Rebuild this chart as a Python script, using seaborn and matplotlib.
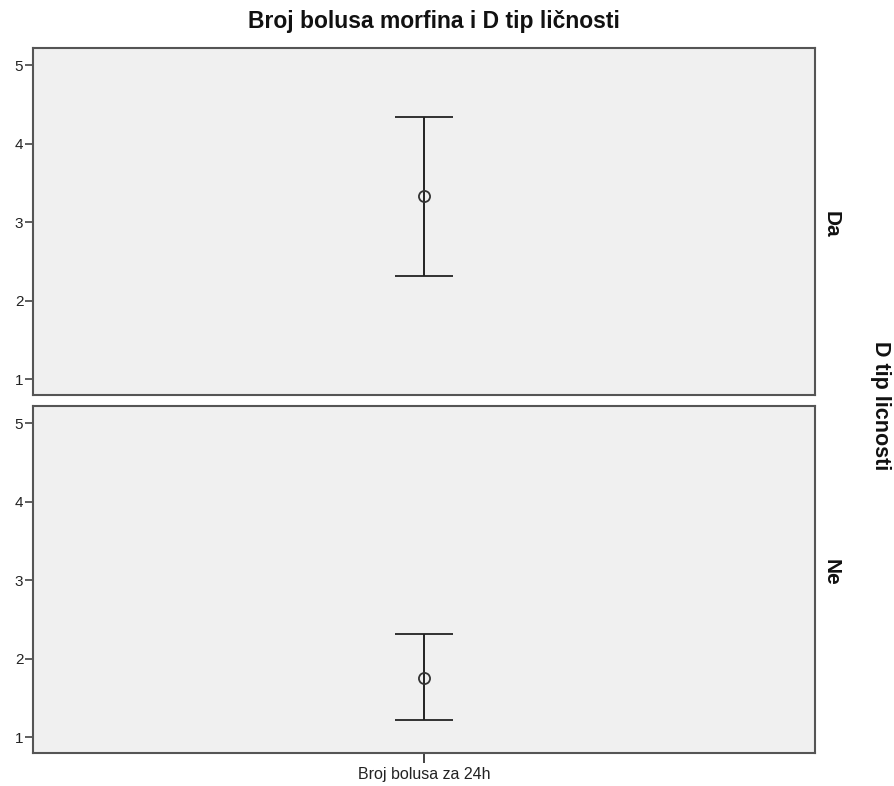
import matplotlib
matplotlib.use("Agg")
import matplotlib.pyplot as plt
import seaborn as sns
import pandas as pd

groups = ["Da", "Ne"]
variable = ["Broj bolusa za 24h", "Broj bolusa za 24h"]
means = [3.33, 1.76]
lower = [2.31, 1.22]
upper = [4.34, 2.32]
yticks = [1, 2, 3, 4, 5]

df = pd.DataFrame({"grupa": groups, "var": variable, "mean": means, "lo": lower, "hi": upper})

sns.set_theme(style="white")
plt.rcParams["font.family"] = ["Liberation Sans", "DejaVu Sans"]

W, H = 894, 786

g = sns.FacetGrid(df, row="grupa", row_order=groups, sharex=True, sharey=True,
                  height=3.9, aspect=2.2, despine=False)


def draw(data, **kw):
    ax = plt.gca()
    xs = [0] * len(data)
    ax.errorbar(xs, data["mean"],
                yerr=[data["mean"] - data["lo"], data["hi"] - data["mean"]],
                fmt="o", mfc="none", mec="#333333", ms=8, mew=1.3,
                ecolor="#222222", elinewidth=1.4, capsize=21, capthick=1.5)


g.map_dataframe(draw)
g.figure.set_size_inches(W / 100, H / 100)
g.figure.subplots_adjust(left=33 / W, right=815 / W, top=1 - 48 / H, bottom=1 - 753 / H,
                         hspace=11 / 347)
g.set_titles(row_template="", col_template="")
g.set_axis_labels("", "")

row_label_y = [224, 572]
for ax, grp, ly in zip(g.axes.flat, groups, row_label_y):
    ax.set_facecolor("#f0f0f0")
    ax.set_xlim(-0.5, 0.5)
    ax.set_ylim(0.8, 5.22)
    ax.set_yticks(yticks)
    ax.set_yticklabels([str(t) for t in yticks], fontsize=11, color="#222222")
    ax.tick_params(axis="y", left=True, length=6, width=1.2, color="#444444", pad=1)
    for s in ax.spines.values():
        s.set_color("#555555")
        s.set_linewidth(1.5)
    g.figure.text(831 / W, 1 - ly / H, grp, rotation=-90, ha="center", va="center",
                  fontsize=15, fontweight="bold", color="#111111")

bottom = g.axes.flat[-1]
bottom.set_xticks([0])
bottom.set_xticklabels(["Broj bolusa za 24h"], fontsize=11.5, color="#222222")
bottom.tick_params(axis="x", bottom=True, length=7, width=1.3, color="#333333", pad=3)
g.axes.flat[0].tick_params(axis="x", bottom=False, labelbottom=False)

g.figure.text(434 / W, 1 - 28 / H, "Broj bolusa morfina i D tip ličnosti", ha="center",
              va="baseline", fontsize=16.5, fontweight="bold", color="#111111")
g.figure.text(881 / W, 1 - 406 / H, "D tip licnosti", ha="center", va="center", rotation=-90,
              fontsize=15.5, fontweight="bold", color="#111111")

g.figure.savefig("out.png", dpi=100)
